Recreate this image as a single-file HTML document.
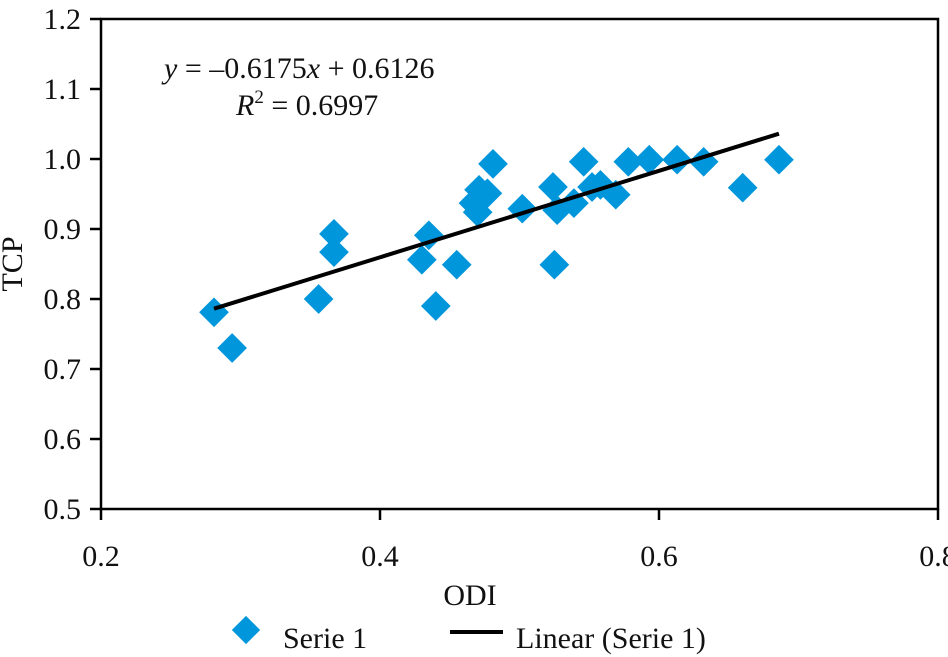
<!DOCTYPE html>
<html><head><meta charset="utf-8"><style>
html,body{margin:0;padding:0;background:#fff;width:948px;height:657px;overflow:hidden}
svg{display:block;font-family:"Liberation Serif",serif}
</style></head><body>
<svg id="chart" width="948" height="657" viewBox="0 0 948 657">
<g id="axes"></g><g id="marks"></g>
<text x="164" y="78" font-size="30" fill="#111"><tspan font-style="italic">y</tspan> = –0.6175<tspan font-style="italic">x</tspan> + 0.6126</text>
<text x="236" y="115" font-size="30" fill="#111"><tspan font-style="italic">R</tspan><tspan font-size="19" dy="-12">2</tspan><tspan dy="12"> = 0.6997</tspan></text>
<text x="470" y="605" font-size="30" text-anchor="middle" fill="#111">ODI</text>
<text transform="translate(22,264) rotate(-90)" font-size="30" text-anchor="middle" fill="#111">TCP</text>
<g>
<rect x="236" y="620" width="20" height="20" transform="rotate(45 246 630)" fill="#0096db"/>
<text x="283" y="648" font-size="30" fill="#111">Serie 1</text>
<line x1="450" y1="632" x2="503" y2="632" stroke="#000" stroke-width="4"/>
<text x="516" y="648" font-size="30" fill="#111">Linear (Serie 1)</text>
</g>
</svg>
<script>
const xs = [0.281,0.294,0.356,0.367,0.367,0.43,0.435,0.44,0.455,0.467,0.47,0.471,0.477,0.481,0.502,0.524,0.525,0.527,0.539,0.546,0.552,0.558,0.569,0.578,0.593,0.613,0.632,0.660,0.686];
const ys = [0.781,0.73,0.80,0.893,0.867,0.856,0.891,0.79,0.849,0.937,0.924,0.956,0.951,0.993,0.929,0.96,0.849,0.927,0.937,0.996,0.96,0.963,0.949,0.996,0.999,0.999,0.996,0.959,0.999];
const xTicks = [0.2,0.4,0.6,0.8];
const yTicks = [0.5,0.6,0.7,0.8,0.9,1.0,1.1,1.2];
const slope = 0.6175, intercept = 0.6126;
const X0=101,X1=938,Y0=509,Y1=19;
const sx=v=>X0+(v-0.2)/0.6*(X1-X0);
const sy=v=>Y0-(v-0.5)/0.7*(Y0-Y1);
const NS='http://www.w3.org/2000/svg';
function mk(t,a,p){const e=document.createElementNS(NS,t);for(const k in a)e.setAttribute(k,a[k]);p.appendChild(e);return e;}
const ax=document.getElementById('axes'), mg=document.getElementById('marks');
const frame=mk('rect',{x:X0,y:Y1,width:X1-X0,height:Y0-Y1,fill:'none',stroke:'#000','stroke-width':2.5},ax);


xTicks.forEach(v=>{
  const l=mk('line',{x1:sx(v),x2:sx(v),y1:Y0,y2:Y0+11,stroke:'#000','stroke-width':2.5},ax);
  
  
  const t=mk('text',{x:sx(v),y:566,'font-size':30,'text-anchor':'middle',fill:'#111'},ax);
  t.textContent=v.toFixed(1);
  
  
});
yTicks.forEach(v=>{
  const l=mk('line',{x1:X0-11,x2:X0,y1:sy(v),y2:sy(v),stroke:'#000','stroke-width':2.5},ax);
  
  
  const t=mk('text',{x:81,y:sy(v)+10,'font-size':30,'text-anchor':'end',fill:'#111'},ax);
  t.textContent=v.toFixed(1);
  
  
});
xs.forEach((v,i)=>{
  const cx=sx(v),cy=sy(ys[i]);
  const r=mk('rect',{x:cx-10.5,y:cy-10.5,width:21,height:21,fill:'#0096db',transform:`rotate(45 ${cx} ${cy})`},mg);
  
  
});
const xmin=Math.min(...xs),xmax=Math.max(...xs);
const tl=mk('line',{x1:sx(xmin),y1:sy(slope*xmin+intercept),x2:sx(xmax),y2:sy(slope*xmax+intercept),stroke:'#000','stroke-width':4},mg);


</script>
</body></html>
